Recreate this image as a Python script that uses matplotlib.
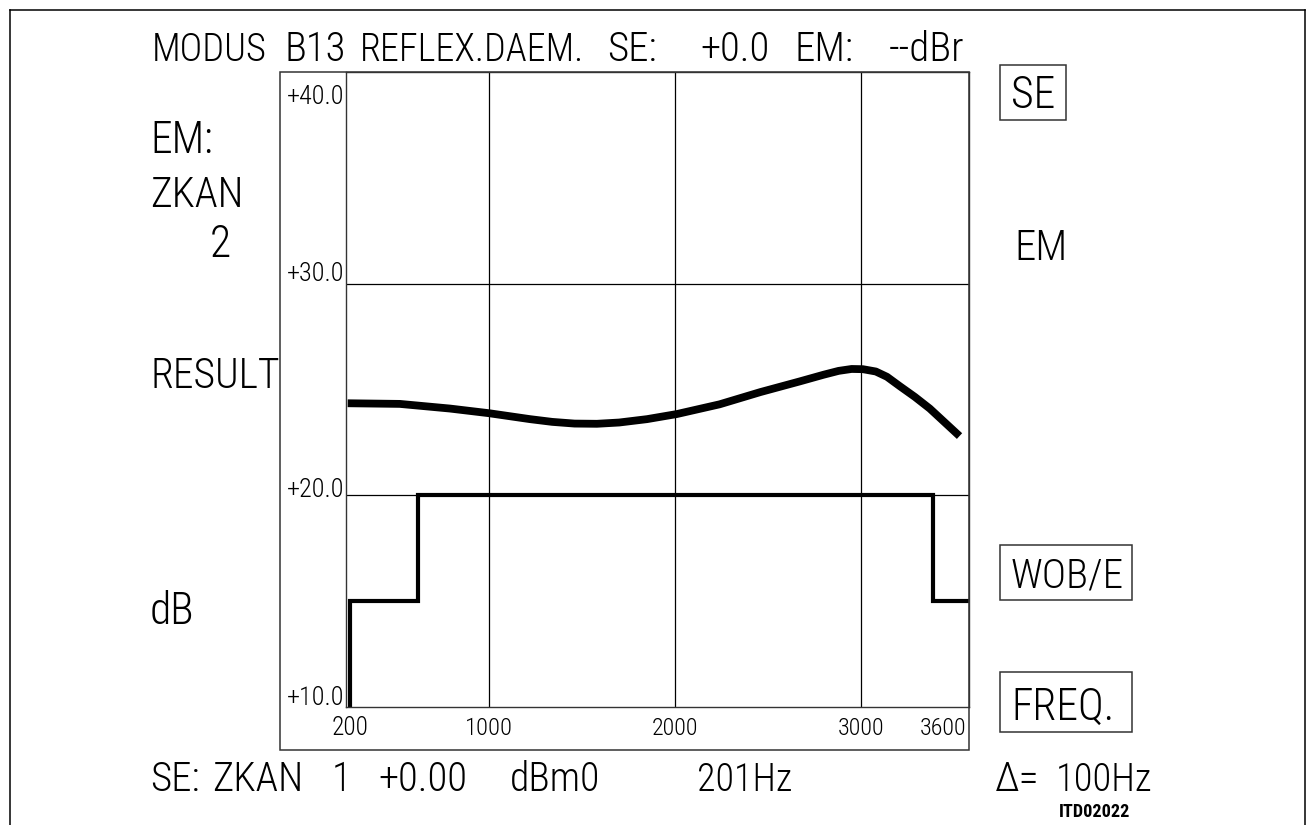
import matplotlib
matplotlib.use("Agg")
import matplotlib.pyplot as plt
from matplotlib import font_manager as fm
from matplotlib.font_manager import FontProperties
from matplotlib.textpath import TextPath
from matplotlib.patches import Rectangle
from matplotlib.lines import Line2D
import os

# ---------------- data ----------------
freq_grid = [1000, 2000, 3000]
freq_tick_labels = ["200", "1000", "2000", "3000", "3600"]
db_grid = [20, 30]
db_tick_labels = ["+10.0", "+20.0", "+30.0", "+40.0"]

mask_freq = [250, 250, 620, 620, 3390, 3390, 3581]
mask_db = [10, 15, 15, 20, 20, 15, 15]

curve_freq = [240, 520, 790, 1000, 1220, 1340, 1460, 1580, 1700, 1850, 2010,
              2240, 2460, 2670, 2800, 2880, 2950, 3010, 3080, 3140, 3210,
              3290, 3370, 3450, 3530]
curve_db = [24.35, 24.32, 24.10, 23.88, 23.60, 23.47, 23.39, 23.38, 23.44, 23.60, 23.84,
            24.30, 24.88, 25.38, 25.70, 25.88, 25.97, 25.96, 25.85, 25.60, 25.15,
            24.65, 24.10, 23.45, 22.80]

title_words = ["MODUS", "B13", "REFLEX.DAEM.", "SE:", "+0.0", "EM:", "--dBr"]
left_labels = ["EM:", "ZKAN", "2", "RESULT", "dB"]
right_labels = ["SE", "EM", "WOB/E", "FREQ."]
bottom_words = ["SE:", "ZKAN", "1", "+0.00", "dBm0", "201Hz", "\u0394=", "100Hz"]
code_label = "ITD02022"

# ---------------- fonts ----------------
W, H, DPI = 1311, 825, 100


def find_font(patterns):
    files = [f.fname for f in fm.fontManager.ttflist]
    for p in patterns:
        for fn in files:
            if os.path.basename(fn) == p:
                return fn
    return None


thin_file = find_font(["RobotoCondensed-Light.ttf", "OpenSans-CondLight.ttf",
                       "OpenSans_Condensed-Light.ttf", "NotoSans-CondensedLight.ttf",
                       "NotoSans-SemiCondensedLight.ttf", "LiberationSansNarrow-Regular.ttf",
                       "Roboto-Light.ttf", "NotoSans-Light.ttf", "Lato-Light.ttf",
                       "DejaVuSansCondensed.ttf"])
bold_file = find_font(["RobotoCondensed-Bold.ttf", "LiberationSansNarrow-Bold.ttf",
                       "NotoSans-CondensedBold.ttf", "DejaVuSansCondensed-Bold.ttf",
                       "LiberationSans-Bold.ttf", "DejaVuSans-Bold.ttf"])

FP = FontProperties(fname=thin_file) if thin_file else FontProperties(family="DejaVu Sans", stretch="condensed")
FPB = FontProperties(fname=bold_file) if bold_file else FontProperties(family="DejaVu Sans", weight="bold")


def ink_width(s, fp):
    tp = TextPath((0, 0), s, size=100, prop=fp)
    return tp.get_extents().width / 100.0


def cap_ratio(fp):
    tp = TextPath((0, 0), "H", size=100, prop=fp)
    return tp.get_extents().height / 100.0


CAP = cap_ratio(FP)
CAPB = cap_ratio(FPB)

fig = plt.figure(figsize=(W / DPI, H / DPI), dpi=DPI)
fig.patch.set_facecolor("white")


def fx(x):
    return x / W


def fy(y):
    return 1 - y / H


def put(x, y, s, cap, width=None, ha="left", fp=FP, ratio=CAP):
    size = cap / ratio
    if width is not None:
        wr = ink_width(s, fp)
        if wr > 0:
            size = min(size, width / wr)
    p = fp.copy()
    p.set_size(size * 72.0 / DPI)
    fig.text(fx(x), fy(y), s, fontproperties=p, ha=ha, va="baseline", color="black")


# ---------------- axes ----------------
PL, PR, PT, PB = 346, 969, 72, 707
ax = fig.add_axes([fx(PL), fy(PB), (PR - PL) / W, (PB - PT) / H])
ax.set_xlim(231, 3581)
ax.set_ylim(10, 40)
for s in ax.spines.values():
    s.set_linewidth(1.0)
    s.set_color("#333333")
ax.set_xticks([])
ax.set_yticks([])
for f in freq_grid:
    ax.axvline(f, color="black", lw=0.9)
for d in db_grid:
    ax.axhline(d, color="black", lw=0.9)

ax.plot(mask_freq, mask_db, color="black", lw=3.0, solid_joinstyle="miter")
ax.plot(curve_freq, curve_db, color="black", lw=5.6, solid_joinstyle="round",
        solid_capstyle="butt")

# outer box
fig.add_artist(Rectangle((fx(280), fy(750)), (969 - 280) / W, (750 - 72) / H,
                         transform=fig.transFigure, fill=False, lw=1.1,
                         edgecolor="#333333"))

# page frame
for xs, ys in [([10, 10], [10, 825]), ([10, 1305], [10, 10]), ([1305, 1305], [10, 825])]:
    fig.add_artist(Line2D([fx(v) for v in xs], [fy(v) for v in ys],
                          transform=fig.transFigure, color="black", lw=1.1))

# ---------------- texts ----------------
title_x = [152, 285, 360, 607, 700, 794, 889]
title_w = [110, 66, 218, 54, 78, 60, 78]
for w, x, wd in zip(title_words, title_x, title_w):
    put(x, 61, w, 29, wd)

left_pos = [(150, 153), (150, 207), (210, 257), (150, 388), (150, 624)]
left_w = [58, 88, 20, 125, 46]
for w, (x, y), wd in zip(left_labels, left_pos, left_w):
    put(x, y, w, 31, wd)

right_pos = [(1011, 108), (1014, 260), (1011, 588), (1011, 720)]
right_w = [46, 46, 110, 100]
for w, (x, y), wd in zip(right_labels, right_pos, right_w):
    put(x, y, w, 31, wd)
for (x0, y0, x1, y1) in [(1000, 65, 1066, 120), (1000, 545, 1132, 600), (1000, 672, 1132, 732)]:
    fig.add_artist(Rectangle((fx(x0), fy(y1)), (x1 - x0) / W, (y1 - y0) / H,
                             transform=fig.transFigure, fill=False, lw=1.1,
                             edgecolor="#333333"))

# y tick labels
ytl_base = [705, 497, 281, 104]
for lab, yb in zip(db_tick_labels, ytl_base):
    put(287, yb, lab, 20, 55)

# x tick labels
xtl = [(332, "left", 34), (489, "center", 44), (675, "center", 44),
       (861, "center", 44), (966, "right", 44)]
for lab, (x, ha, wd) in zip(freq_tick_labels, xtl):
    put(x, 735, lab, 18, wd, ha=ha)

bottom_x = [150, 212, 332, 378, 510, 697, 995, 1056]
bottom_w = [48, 86, 10, 86, 86, 92, 46, 92]
for w, x, wd in zip(bottom_words, bottom_x, bottom_w):
    put(x, 791, w, 29, wd)

put(1130, 817, code_label, 13, 72, ha="right", fp=FPB, ratio=CAPB)

fig.savefig("out.png", dpi=DPI, facecolor="white")
